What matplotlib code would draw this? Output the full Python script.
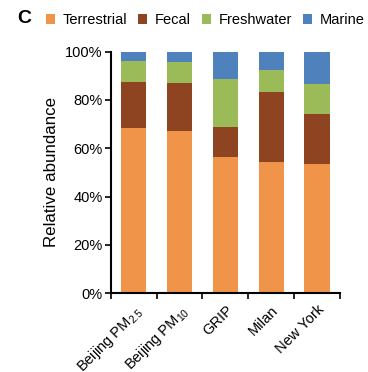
import numpy as np
import matplotlib.pyplot as plt

plt.rcParams["font.family"] = ["Liberation Sans", "DejaVu Sans"]

sites = ["Beijing PM$\\mathregular{_{2.5}}$", "Beijing PM$\\mathregular{_{10}}$", "GRIP", "Milan", "New York"]
groups = ["Terrestrial", "Fecal", "Freshwater", "Marine"]
terrestrial = [68.6, 67.1, 56.2, 54.5, 53.4]
fecal = [19.0, 19.9, 12.7, 28.9, 21.0]
freshwater = [8.6, 8.9, 19.6, 8.9, 12.4]
marine = [3.8, 4.1, 11.5, 7.7, 13.2]
colors = ["#F0944A", "#8E4420", "#9BBB59", "#4F81BD"]

fig = plt.figure(figsize=(3.68, 3.72), dpi=100)
ax = fig.add_axes([0.301, 0.212, 0.623, 0.649])

x = np.arange(len(sites))
bottom = np.zeros(len(sites))
for name, vals, c in zip(groups, [terrestrial, fecal, freshwater, marine], colors):
    ax.bar(x, vals, 0.55, bottom=bottom, color=c, label=name)
    bottom += np.array(vals)

ax.set_xlim(-0.5, 4.5)
ax.set_ylim(0, 100)
ax.set_yticks(np.arange(0, 101, 20))
ax.set_yticklabels([f"{v}%" for v in range(0, 101, 20)], fontsize=10.5)
ax.set_ylabel("Relative abundance", fontsize=12.2, labelpad=4)

ax.set_xticks(x)
ax.set_xticklabels(sites, rotation=45, ha="right", rotation_mode="anchor", fontsize=10.5)
ax.tick_params(axis="x", length=0, pad=7)
ax.set_xticks(np.arange(-0.5, 5, 1), minor=True)
ax.tick_params(axis="x", which="minor", length=4, width=1.2, direction="out")
ax.tick_params(axis="y", length=4, width=1.2, direction="out", pad=2)

for s in ["top", "right"]:
    ax.spines[s].set_visible(False)
for s in ["left", "bottom"]:
    ax.spines[s].set_linewidth(1.5)

fig.legend(loc="center left", bbox_to_anchor=(0.125, 0.946), ncol=4, frameon=False,
           fontsize=10.5, handlelength=0.6, handleheight=0.6, handletextpad=0.55,
           columnspacing=0.75, borderpad=0, borderaxespad=0)
fig.text(0.048, 0.95, "C", fontsize=14, fontweight="bold", va="center")

fig.savefig("out.png", dpi=100)
